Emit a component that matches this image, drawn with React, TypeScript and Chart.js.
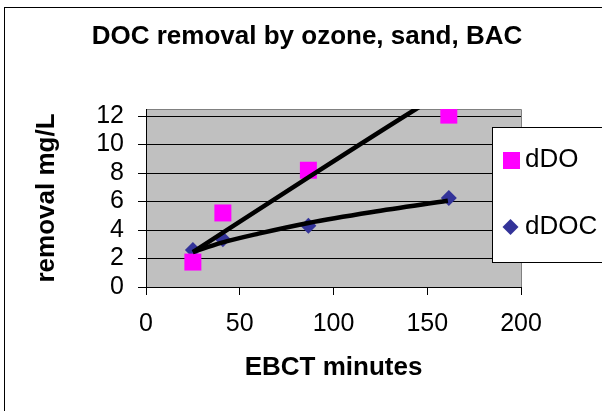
import React, { useEffect, useRef } from 'react';
import { Chart, registerables } from 'chart.js';
Chart.register(...registerables);

const FONT = '"Liberation Sans", Arial, sans-serif';
const titleText = 'DOC removal by ozone, sand, BAC';
const xTitle = 'EBCT minutes';
const yTitle = 'removal mg/L';
const seriesNames = ['dDO', 'dDOC'];
const ebct = [25, 41, 86.6, 161.5];
const dDO = [1.75, 5.2, 8.2, 12.07];
const dDOC = [2.6, 3.35, 4.3, 6.25];
const dDOTrendX = [25, 86.6, 144, 161.5];
const dDOTrendY = [2.45, 7.7, 12.5, 13.9];
const dDOCTrendX = [25, 40, 60, 86.6, 120, 161];
const dDOCTrendY = [2.45, 3.1, 3.75, 4.5, 5.25, 6.05];
const xRange = [0, 200, 50];
const yRange = [0, 12.5, 2];

const MAGENTA = '#FF00FF';
const NAVY = '#333399';

const decor = {
  id: 'decor',
  beforeDraw(chart: any) {
    const { ctx, chartArea: a } = chart;
    ctx.save();
    ctx.fillStyle = '#ffffff';
    ctx.fillRect(0, 0, chart.width, chart.height);
    ctx.fillStyle = '#C0C0C0';
    ctx.fillRect(a.left, a.top, a.right - a.left, a.bottom - a.top);
    ctx.strokeStyle = '#808080';
    ctx.lineWidth = 1;
    ctx.beginPath();
    ctx.moveTo(a.left, a.top + 0.5);
    ctx.lineTo(a.right + 0.5, a.top + 0.5);
    ctx.lineTo(a.right + 0.5, a.bottom);
    ctx.stroke();
    ctx.restore();
  },
  afterDraw(chart: any) {
    const { ctx } = chart;
    ctx.save();
    // title
    ctx.fillStyle = '#000';
    ctx.font = `bold 26px ${FONT}`;
    ctx.textAlign = 'center';
    ctx.textBaseline = 'middle';
    ctx.fillText(titleText, 307, 37);
    // legend
    ctx.fillStyle = '#fff';
    ctx.fillRect(492, 127, 200, 135);
    ctx.strokeStyle = '#000';
    ctx.lineWidth = 1;
    ctx.strokeRect(492.5, 127.5, 200, 135);
    ctx.fillStyle = MAGENTA;
    ctx.fillRect(503, 152, 17, 17);
    ctx.fillStyle = NAVY;
    ctx.beginPath();
    ctx.moveTo(510.5, 219);
    ctx.lineTo(518.5, 227);
    ctx.lineTo(510.5, 235);
    ctx.lineTo(502.5, 227);
    ctx.closePath();
    ctx.fill();
    ctx.fillStyle = '#000';
    ctx.font = `26px ${FONT}`;
    ctx.textAlign = 'left';
    ctx.textBaseline = 'middle';
    ctx.fillText(seriesNames[0], 525, 160);
    ctx.fillText(seriesNames[1], 525, 227);
    // outer border
    ctx.strokeStyle = '#000';
    ctx.strokeRect(4.5, 7.5, 700, 500);
    ctx.restore();
  },
};

export default function App() {
  const ref = useRef<HTMLCanvasElement>(null);
  useEffect(() => {
    if (!ref.current) return;
    const chart = new Chart(ref.current, {
      type: 'scatter',
      data: {
        datasets: [
          {
            label: seriesNames[0] + ' trend',
            data: dDOTrendX.map((x, i) => ({ x, y: dDOTrendY[i] })),
            showLine: true,
            borderColor: '#000',
            borderWidth: 4.5,
            pointRadius: 0,
            cubicInterpolationMode: 'monotone',
            order: 0,
          },
          {
            label: seriesNames[1] + ' trend',
            data: dDOCTrendX.map((x, i) => ({ x, y: dDOCTrendY[i] })),
            showLine: true,
            borderColor: '#000',
            borderWidth: 4.5,
            pointRadius: 0,
            cubicInterpolationMode: 'monotone',
            order: 0,
          },
          {
            label: seriesNames[0],
            data: ebct.map((x, i) => ({ x, y: dDO[i] })),
            pointStyle: 'rect',
            pointRadius: 12,
            backgroundColor: MAGENTA,
            borderWidth: 0,
            order: 1,
          },
          {
            label: seriesNames[1],
            data: ebct.map((x, i) => ({ x, y: dDOC[i] })),
            pointStyle: 'rectRot',
            pointRadius: 8,
            backgroundColor: NAVY,
            borderWidth: 0,
            order: 1,
          },
        ],
      } as any,
      options: {
        responsive: false,
        maintainAspectRatio: false,
        animation: false,
        layout: { padding: { top: 109, right: 81, bottom: 0, left: 0 } },
        plugins: {
          legend: { display: false },
          tooltip: { enabled: false },
          title: { display: false },
        },
        scales: {
          x: {
            type: 'linear',
            min: xRange[0],
            max: xRange[1],
            ticks: { stepSize: xRange[2], autoSkip: false, font: { family: FONT, size: 25 }, padding: 14, color: '#000' },
            grid: { drawOnChartArea: false, color: '#000', tickColor: '#000', tickLength: 8 },
            border: { color: '#000', width: 1 },
            title: {
              display: true,
              text: xTitle,
              color: '#000',
              font: { family: FONT, size: 26, weight: 'bold' },
              padding: { top: 0, bottom: 28 },
            },
            afterFit(s: any) {
              s.height = 124;
            },
          },
          y: {
            type: 'linear',
            min: yRange[0],
            max: yRange[1],
            ticks: {
              stepSize: yRange[2],
              includeBounds: false,
              autoSkip: false,
              font: { family: FONT, size: 25 },
              padding: 14,
              color: '#000',
            },
            grid: { drawOnChartArea: true, color: '#000', tickColor: '#000', tickLength: 8 },
            border: { color: '#000', width: 1 },
            title: {
              display: true,
              text: yTitle,
              color: '#000',
              font: { family: FONT, size: 26, weight: 'bold' },
              padding: { top: 31, bottom: 0 },
            },
            afterFit(s: any) {
              s.width = 146;
            },
          },
        },
      } as any,
      plugins: [decor],
    });
    return () => chart.destroy();
  }, []);
  return (
    <div style={{ position: 'absolute', left: 0, top: 0, width: 602, height: 411 }}>
      <canvas ref={ref} width={602} height={411} style={{ display: 'block', width: 602, height: 411 }} />
    </div>
  );
}
